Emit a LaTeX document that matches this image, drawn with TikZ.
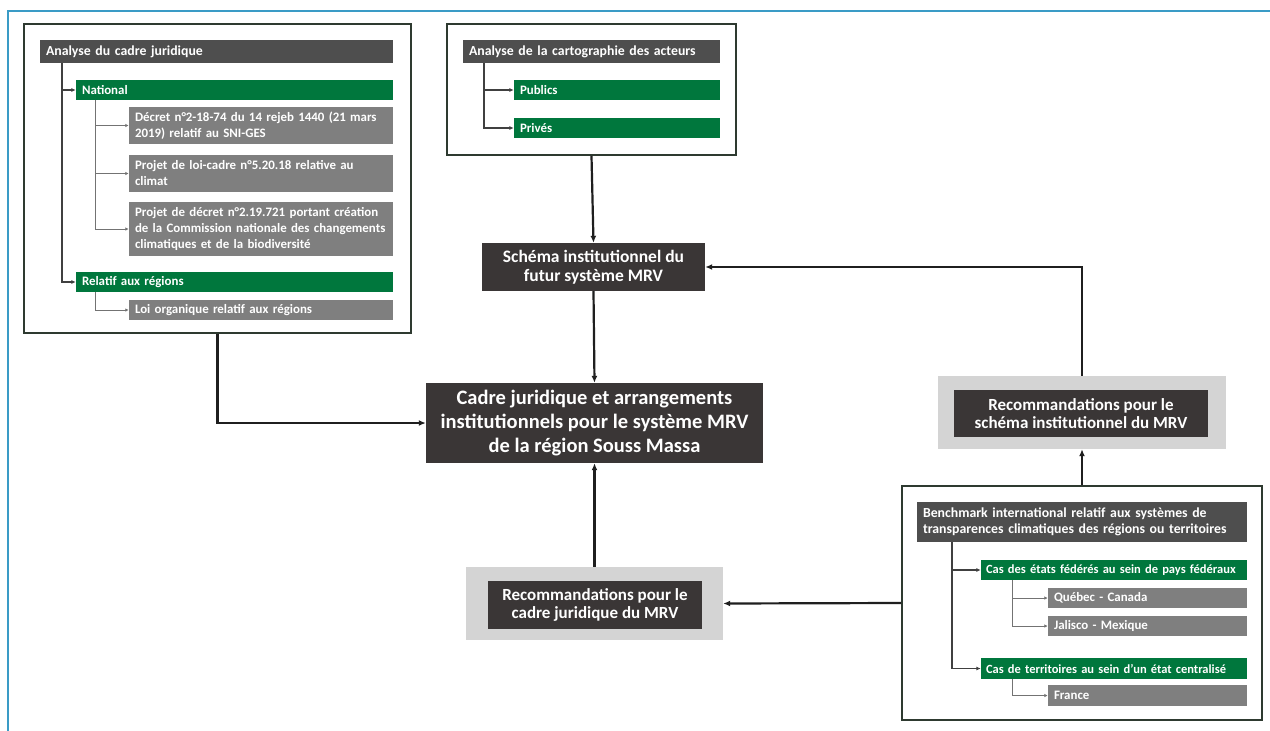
\documentclass[tikz,border=0pt]{standalone}
\usepackage{fontspec}
\setmainfont{Carlito}
\usetikzlibrary{arrows.meta,calc}
\definecolor{frameblue}{HTML}{3A9BC6}
\definecolor{boxborder}{HTML}{2E3A30}
\definecolor{hdrgray}{HTML}{4E4E4E}
\definecolor{darkbox}{HTML}{3A3636}
\definecolor{grn}{HTML}{00773D}
\definecolor{itemgray}{HTML}{7F7F7F}
\definecolor{lightbg}{HTML}{D4D4D4}
\begin{document}
\begin{tikzpicture}[x=1pt,y=-1pt,
  outerbox/.style={draw=boxborder, line width=1.8pt, fill=white, inner sep=0pt},
  bar/.style={text=white, inner xsep=6pt, inner ysep=0pt, align=left,
    font=\bfseries\fontsize{12.9}{16}\selectfont},
  hdr/.style={bar, fill=hdrgray, font=\bfseries\fontsize{13.8}{16.5}\selectfont},
  grbar/.style={bar, fill=grn},
  item/.style={bar, fill=itemgray},
  darkb/.style={fill=darkbox, text=white, align=center, inner sep=0pt},
  lightb/.style={fill=lightbg, inner sep=0pt},
  conn/.style={line width=2.2pt, draw=black!88, -{Latex[length=7pt,width=6pt]}},
  tree/.style={line width=1.6pt, draw=black!75, -{Latex[length=4.5pt,width=4pt]}},
  subtree/.style={line width=0.8pt, draw=black!55, -{Latex[length=3.5pt,width=3.5pt]}}
]
\useasboundingbox (0,0) rectangle (1270,731);
\fill[white] (0,0) rectangle (1270,731);
% blue frame
\draw[frameblue, line width=2.5pt] (8,731) -- (8,11) -- (1270,11);

% ---------- left box ----------
\node[outerbox, minimum width=387pt, minimum height=309pt] (L) at (217.5,178.5) {};
\node[hdr, text width=341pt, minimum height=23pt] (A1) at (216.5,51.5) {Analyse du cadre juridique};
\node[grbar, text width=305pt, minimum height=20pt] (N1) at (234.5,90) {National};
\node[item, text width=252pt, minimum height=37pt] (G1) at (261,125.5) {Décret n°2-18-74 du 14 rejeb 1440 (21 mars\\2019) relatif au SNI-GES};
\node[item, text width=252pt, minimum height=37pt] (G2) at (261,173.5) {Projet de loi-cadre n°5.20.18 relative au\\climat};
\node[item, text width=252pt, minimum height=54pt] (G3) at (261,229) {Projet de décret n°2.19.721 portant création\\de la Commission nationale des changements\\climatiques et de la biodiversité};
\node[grbar, text width=305pt, minimum height=20pt] (N2) at (234.5,282) {Relatif aux régions};
\node[item, text width=252pt, minimum height=20pt] (G4) at (261,310) {Loi organique relatif aux régions};

\draw[tree] ([xshift=22pt]A1.south west) |- (N1.west);
\draw[tree] ([xshift=22pt]A1.south west) |- (N2.west);
\draw[subtree] ([xshift=20pt]N1.south west) |- (G1.west);
\draw[subtree] ([xshift=20pt]N1.south west) |- (G2.west);
\draw[subtree] ([xshift=20pt]N1.south west) |- (G3.west);
\draw[subtree] ([xshift=20pt]N2.south west) |- (G4.west);

% ---------- top middle box ----------
\node[outerbox, minimum width=289pt, minimum height=131pt] (T) at (591.5,89.5) {};
\node[hdr, text width=245pt, minimum height=23pt] (A2) at (591.5,51.5) {Analyse de la cartographie des acteurs};
\node[grbar, text width=194pt, minimum height=20pt] (P1) at (617,90) {Publics};
\node[grbar, text width=194pt, minimum height=20pt] (P2) at (617,128) {Privés};
\draw[tree] ([xshift=21pt]A2.south west) |- (P1.west);
\draw[tree] ([xshift=21pt]A2.south west) |- (P2.west);

% ---------- central boxes ----------
\node[darkb, minimum width=223pt, minimum height=48pt,
  font=\bfseries\fontsize{17.5}{19.5}\selectfont] (S) at (593.5,267)
  {Schéma institutionnel du\\futur système MRV};
\node[darkb, minimum width=337pt, minimum height=80pt,
  font=\bfseries\fontsize{20.5}{24}\selectfont] (M) at (594.5,423)
  {Cadre juridique et arrangements\\institutionnels pour le système MRV\\de la région Souss Massa};

% ---------- recommandations schéma ----------
\node[lightb, minimum width=288pt, minimum height=73pt] (RSo) at (1082,412.5) {};
\node[darkb, minimum width=254pt, minimum height=47pt,
  font=\bfseries\fontsize{17}{18.5}\selectfont] (RS) at (1081,413.5)
  {Recommandations pour le\\schéma institutionnel du MRV};

% ---------- recommandations cadre ----------
\node[lightb, minimum width=257pt, minimum height=73pt] (RCo) at (594.5,603.5) {};
\node[darkb, minimum width=214pt, minimum height=48pt,
  font=\bfseries\fontsize{17}{18.5}\selectfont] (RC) at (595,605)
  {Recommandations pour le\\cadre juridique du MRV};

% ---------- benchmark box ----------
\node[outerbox, minimum width=360pt, minimum height=234pt] (B) at (1082,603) {};
\node[hdr, text width=318pt, minimum height=40pt] (BH) at (1082,522)
  {Benchmark international relatif aux systèmes de\\transparences climatiques des régions ou territoires};
\node[grbar, inner xsep=5pt, text width=256pt, minimum height=20pt,
  font=\bfseries\fontsize{12.5}{16}\selectfont] (C1) at (1114,570) {Cas des états fédérés au sein de pays fédéraux};
\node[item, text width=187pt, minimum height=20pt] (Q) at (1147.5,598) {Québec - Canada};
\node[item, text width=187pt, minimum height=20pt] (J) at (1147.5,626) {Jalisco - Mexique};
\node[grbar, inner xsep=5pt, text width=256pt, minimum height=21pt,
  font=\bfseries\fontsize{12.5}{16}\selectfont] (C2) at (1114,668.5) {Cas de territoires au sein d'un état centralisé};
\node[item, text width=187pt, minimum height=21pt] (F) at (1147.5,695.5) {France};
\draw[tree] ([xshift=35pt]BH.south west) |- (C1.west);
\draw[tree] ([xshift=35pt]BH.south west) |- (C2.west);
\draw[subtree] ([xshift=32pt]C1.south west) |- (Q.west);
\draw[subtree] ([xshift=32pt]C1.south west) |- (J.west);
\draw[subtree] ([xshift=32pt]C2.south west) |- (F.west);

% ---------- main connectors ----------
\draw[conn] (T.south) -- (S.north);
\draw[conn] (S.south) -- (M.north);
\draw[conn] (L.south) |- (M.west);
\draw[conn] (RCo.north) -- (M.south);
\draw[conn] (B.west) -- (RCo.east);
\draw[conn] (B.north) -- (RSo.south);
\draw[conn] (RSo.north) |- (S.east);
\end{tikzpicture}
\end{document}
